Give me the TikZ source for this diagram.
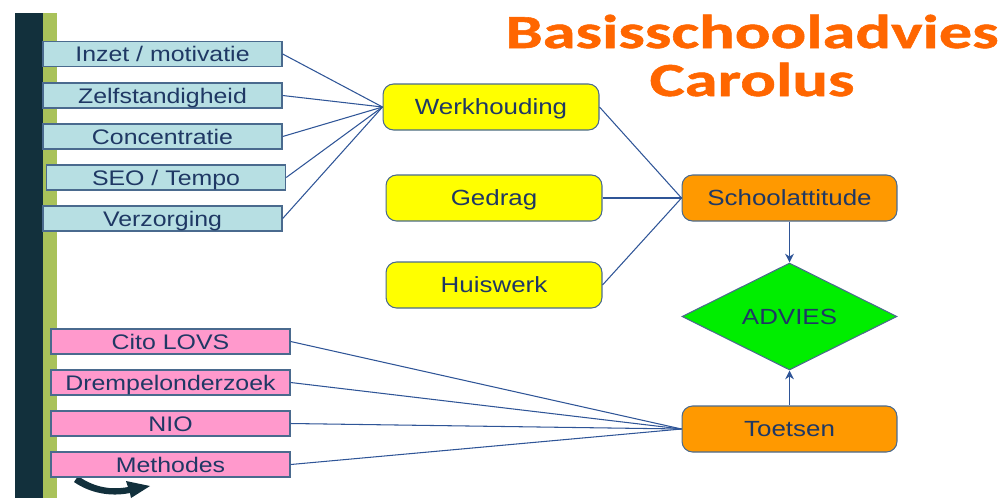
\documentclass[tikz,border=0pt]{standalone}
\usepackage{fontspec}
\setmainfont{Liberation Sans}[FakeStretch=1.18]
\newfontfamily\titlefont{Carlito}[FakeStretch=1.4, FakeBold=1.2]
\usetikzlibrary{arrows.meta}
\usetikzlibrary{shapes.geometric}

\definecolor{navy}{HTML}{1F3864}
\definecolor{edgeblue}{HTML}{2F5597}
\definecolor{rimgrey}{HTML}{4A6A8E}
\definecolor{paleblue}{HTML}{B7DFE3}
\definecolor{pinkfill}{HTML}{FF99CC}
\definecolor{signyellow}{HTML}{FFFF00}
\definecolor{boxorange}{HTML}{FF9900}
\definecolor{brightgreen}{HTML}{00EE00}
\definecolor{titleorange}{HTML}{FF6600}
\definecolor{darkbar}{HTML}{12303C}
\definecolor{olivebar}{HTML}{A9C25A}

\begin{document}
\begin{tikzpicture}[x=0.02cm, y=-0.02cm, >={Stealth[length=5pt, width=5pt]}]
    \tikzset{
        factor/.style={draw=rimgrey, line width=0.8pt, text=navy, inner sep=0pt,
            text height=8.6pt, text depth=0pt,
            minimum width=4.78cm, minimum height=0.5cm, font=\fontsize{12}{14}\selectfont},
        part/.style={factor, fill=paleblue},
        test/.style={factor, fill=pinkfill},
        group/.style={draw=rimgrey, line width=0.6pt, rounded corners=6pt, text=navy, inner sep=0pt,
            text height=9pt, text depth=0pt,
            minimum width=4.32cm, minimum height=0.92cm, font=\fontsize{12.5}{15}\selectfont},
        link/.style={edgeblue, line width=0.6pt}
    }
    \useasboundingbox (0,0) rectangle (1003,498);

    % side bars
    \fill [darkbar] (15,13) rectangle (43,498);
    \fill [olivebar] (43,13) rectangle (57,498);
    \fill [darkbar] (78,476) .. controls (95,488) and (112,490) .. (128,487)
        -- (126,481) -- (150,486) -- (131,498) -- (130,493)
        .. controls (110,497) and (90,493) .. (74,482) -- cycle;

    % title
    \node [titleorange, anchor=base, font=\titlefont\bfseries\fontsize{27}{30}\selectfont]
        (title1) at (752,48) {Basisschooladvies};
    \node [titleorange, anchor=base, font=\titlefont\bfseries\fontsize{27}{30}\selectfont]
        (title2) at (752,96) {Carolus};

    % werkhouding factors
    \node [part] (inzet) at (162.5,54) {Inzet / motivatie};
    \node [part] (zelf) at (162.5,95.5) {Zelfstandigheid};
    \node [part] (conc) at (162.5,136.5) {Concentratie};
    \node [part] (seo) at (166,177.5) {SEO / Tempo};
    \node [part] (verz) at (162.5,218.5) {Verzorging};

    % tests
    \node [test] (cito) at (170.5,341.5) {Cito LOVS};
    \node [test] (drempel) at (170.5,382.5) {Drempelonderzoek};
    \node [test] (nio) at (170.5,423.5) {NIO};
    \node [test] (meth) at (170.5,464.5) {Methodes};

    % groups
    \node [group, fill=signyellow] (werk) at (491,107) {Werkhouding};
    \node [group, fill=signyellow] (gedrag) at (494,198) {Gedrag};
    \node [group, fill=signyellow] (huis) at (494,285) {Huiswerk};
    \node [group, fill=boxorange, minimum width=4.3cm] (school) at (789.5,198) {Schoolattitude};
    \node [group, fill=boxorange, minimum width=4.3cm] (toets) at (789.5,429) {Toetsen};
    \node [diamond, draw=rimgrey, line width=0.6pt, fill=brightgreen, text=navy, inner sep=0pt,
        aspect=2, minimum width=4.3cm, minimum height=2.14cm, font=\fontsize{12.5}{15}\selectfont]
        (advies) at (789.5,316.5) {ADVIES};

    % connectors
    \foreach \n in {inzet, zelf, conc, seo, verz}
        \draw [link] (\n.east) -- (werk.west);
    \foreach \n in {werk, gedrag, huis}
        \draw [link] (\n.east) -- (school.west);
    \foreach \n in {cito, drempel, nio, meth}
        \draw [link] (\n.east) -- (toets.west);
    \draw [link, ->] (school.south) -- (advies.north);
    \draw [link, ->] (toets.north) -- (advies.south);

\end{tikzpicture}
\end{document}
